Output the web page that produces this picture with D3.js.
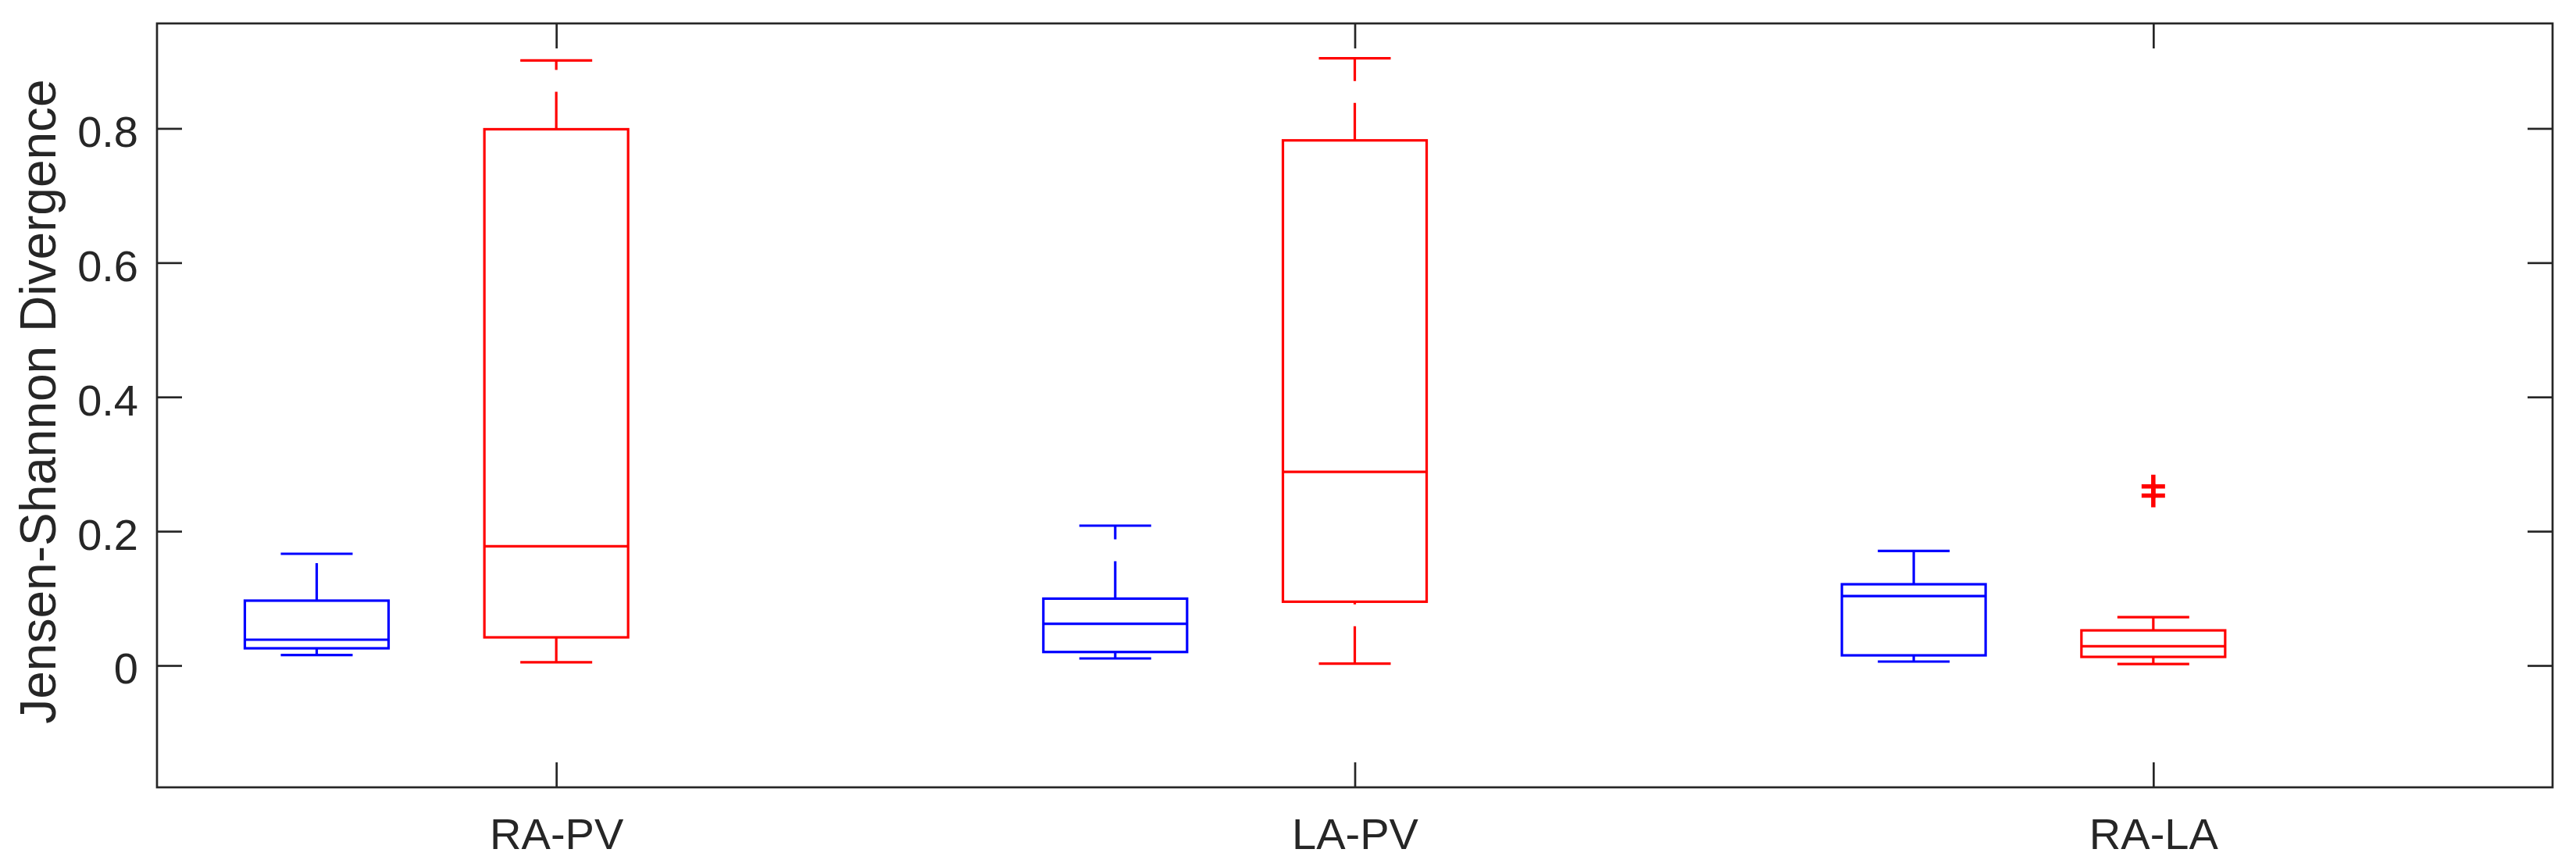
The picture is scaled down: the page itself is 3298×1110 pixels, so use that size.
<!DOCTYPE html>
<html>
<head>
<meta charset="utf-8">
<script src="https://cdn.jsdelivr.net/npm/d3@7"></script>
<style>
  body { margin: 0; background: #fff; }
  svg { display: block; }
  text { font-family: "Liberation Sans", Arial, Helvetica, sans-serif; fill: #262626; }
</style>
</head>
<body>
<div class="container"></div>
<script>
// groups on the x axis
const categories = ["RA-PV", "LA-PV", "RA-LA"];
const yTicks = [0, 0.2, 0.4, 0.6, 0.8];
const yLabel = "Jensen-Shannon Divergence";

// blue series: whisker low, q1, median, q3, whisker high
const blueLow = [0.0155, 0.0105, 0.0058];
const blueQ1 = [0.0256, 0.0201, 0.0151];
const blueMed = [0.0384, 0.0620, 0.1035];
const blueQ3 = [0.0966, 0.0996, 0.1210];
const blueHigh = [0.1664, 0.2083, 0.1706];
const blueOutliers = [[], [], []];

// red series
const redLow = [0.0047, 0.0027, 0.0023];
const redQ1 = [0.0419, 0.0950, 0.0128];
const redMed = [0.1775, 0.2885, 0.0286];
const redQ3 = [0.7988, 0.7822, 0.0523];
const redHigh = [0.9012, 0.9044, 0.0721];
const redOutliers = [[], [], [0.2667, 0.2532]];

const width = 3298, height = 1110;
const margin = {left: 201, right: 3298 - 3268, top: 30, bottom: 1110 - 1008};
const axisColor = '#262626';

let svg = d3.select(".container").append("svg")
  .attr("width", width)
  .attr("height", height)
  .style("background", "#fff");

const x = d3.scaleLinear().domain([0.5, 3.5]).range([margin.left, width - margin.right]);
const y = d3.scaleLinear().domain([-0.1815, 0.9564]).range([height - margin.bottom, margin.top]);

const boxW = 0.18, capW = 0.09;

function series(color, offset, low, q1, med, q3, high, outliers) {
  return categories.map((c, i) => ({
    color: color, pos: i + 1 + offset,
    low: low[i], q1: q1[i], med: med[i], q3: q3[i], high: high[i], out: outliers[i]
  }));
}

const boxes = series('#0000ff', -0.3, blueLow, blueQ1, blueMed, blueQ3, blueHigh, blueOutliers)
  .concat(series('#ff0000', 0, redLow, redQ1, redMed, redQ3, redHigh, redOutliers));

let g = svg.append("g");

boxes.forEach(b => {
  const bg = g.append("g")
    .attr("stroke", b.color)
    .attr("stroke-width", 3.2)
    .attr("fill", "none");
  // upper whisker starts at the box, lower one at the cap
  bg.append("line")
    .attr("x1", x(b.pos)).attr("x2", x(b.pos))
    .attr("y1", y(b.q3)).attr("y2", y(b.high))
    .attr("stroke-dasharray", "48,28");
  bg.append("line")
    .attr("x1", x(b.pos)).attr("x2", x(b.pos))
    .attr("y1", y(b.low)).attr("y2", y(b.q1))
    .attr("stroke-dasharray", "48,28");
  [b.low, b.high].forEach(v => {
    bg.append("line")
      .attr("x1", x(b.pos - capW / 2)).attr("x2", x(b.pos + capW / 2))
      .attr("y1", y(v)).attr("y2", y(v));
  });
  bg.append("rect")
    .attr("x", x(b.pos - boxW / 2))
    .attr("width", x(b.pos + boxW / 2) - x(b.pos - boxW / 2))
    .attr("y", y(b.q3))
    .attr("height", y(b.q1) - y(b.q3));
  bg.append("line")
    .attr("x1", x(b.pos - boxW / 2)).attr("x2", x(b.pos + boxW / 2))
    .attr("y1", y(b.med)).attr("y2", y(b.med));
  bg.selectAll("path.out")
    .data(b.out)
    .enter()
    .append("path")
    .attr("class", "out")
    .attr("stroke-width", 5.5)
    .attr("d", v => `M${x(b.pos) - 15},${y(v)}h30M${x(b.pos)},${y(v) - 15}v30`);
});

// axes, ticks pointing inward on all four sides
const xTickVals = categories.map((c, i) => i + 1);

const axLeft = svg.append("g")
  .attr("transform", `translate(${margin.left},0)`)
  .call(d3.axisLeft(y).tickValues(yTicks).tickSize(-32).tickPadding(24)
    .tickFormat(d => d === 0 ? "0" : d3.format(".1f")(d)));
const axRight = svg.append("g")
  .attr("transform", `translate(${width - margin.right},0)`)
  .call(d3.axisRight(y).tickValues(yTicks).tickSize(-32).tickFormat(""));
const axBottom = svg.append("g")
  .attr("transform", `translate(0,${height - margin.bottom})`)
  .call(d3.axisBottom(x).tickValues(xTickVals).tickSize(-32).tickPadding(39)
    .tickFormat(d => categories[d - 1]));
const axTop = svg.append("g")
  .attr("transform", `translate(0,${margin.top})`)
  .call(d3.axisTop(x).tickValues(xTickVals).tickSize(-32).tickFormat(""));

[axLeft, axRight, axBottom, axTop].forEach(a => {
  a.select(".domain").remove();
  a.selectAll(".tick line").attr("stroke", axisColor).attr("stroke-width", 2.7);
  a.selectAll("text")
    .attr("fill", axisColor)
    .style("font-size", "56px")
    .style("font-family", '"Liberation Sans", Arial, Helvetica, sans-serif');
});
axLeft.selectAll("text").attr("dy", "0.41em");

svg.append("rect")
  .attr("x", margin.left)
  .attr("y", margin.top)
  .attr("width", width - margin.left - margin.right)
  .attr("height", height - margin.top - margin.bottom)
  .attr("fill", "none")
  .attr("stroke", axisColor)
  .attr("stroke-width", 2.7);

svg.append("text")
  .attr("transform", `translate(71,${(margin.top + height - margin.bottom) / 2 - 5}) rotate(-90)`)
  .attr("text-anchor", "middle")
  .style("font-size", "64px")
  .text(yLabel);
</script>
</body>
</html>
